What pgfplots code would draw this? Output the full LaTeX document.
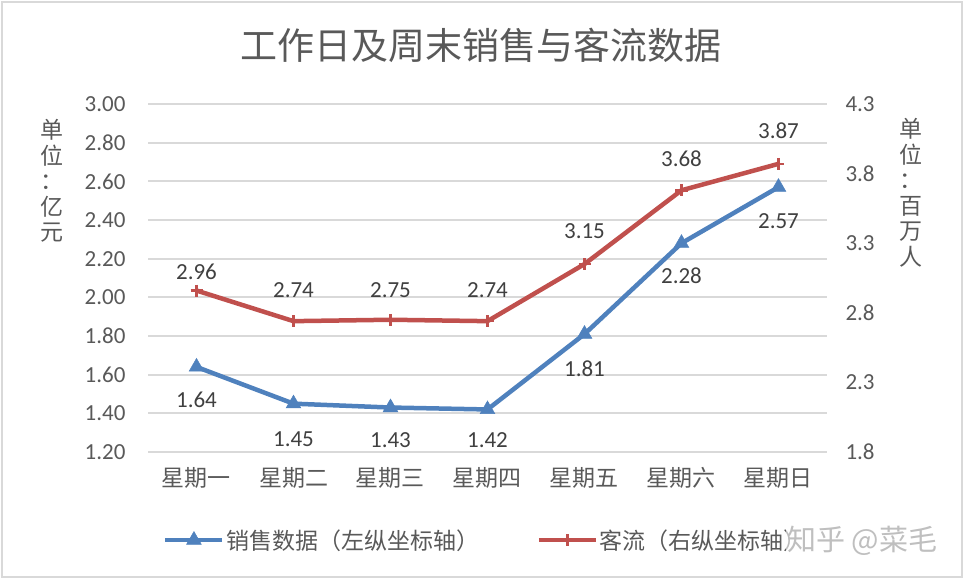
\documentclass[border=0pt]{standalone}
\usepackage{fontspec}
\usepackage{pgfplots}
\usepackage{pgfplotstable}
\pgfplotsset{compat=1.18}
\setmainfont{Carlito}
\newfontfamily\cjk{Noto Sans CJK SC}
\definecolor{cblue}{HTML}{4F81BD}
\definecolor{cred}{HTML}{C0504D}
\definecolor{cgrid}{HTML}{D9D9D9}
\definecolor{ctext}{HTML}{595959}
\definecolor{clabel}{HTML}{404040}

\pgfplotstableread{
x y off
0 1.64 -33
1 1.45 -36
2 1.43 -33
3 1.42 -31
4 1.81 -35
5 2.28 -33
6 2.57 -34
}\salesdata

\pgfplotstableread{
x y off
0 2.96 19
1 2.74 31
2 2.75 30
3 2.74 31
4 3.15 33
5 3.68 32
6 3.87 33
}\flowdata

\begin{document}
\begin{tikzpicture}
\path[use as bounding box] (0,0) rectangle (964pt,579pt);
\draw[cgrid, line width=2pt] (2pt,2pt) rectangle (962pt,577pt);

\begin{axis}[
  at={(148pt,127pt)}, anchor=south west,
  scale only axis, width=679pt, height=348pt,
  xmin=-0.5, xmax=6.5,
  ymin=1.2, ymax=3.0,
  xtick={0,...,6},
  xticklabels={星期一,星期二,星期三,星期四,星期五,星期六,星期日},
  xticklabel style={font=\cjk\fontsize{23}{27}\selectfont, text=ctext, yshift=-12pt},
  ytick={1.2,1.4,...,3.01},
  yticklabel style={/pgf/number format/fixed, /pgf/number format/precision=2,
    /pgf/number format/fixed zerofill, xshift=-19pt},
  /pgf/number format/assume math mode=true,
  tick label style={font=\fontsize{23}{27}\selectfont, text=ctext},
  axis y line*=left, axis x line*=bottom,
  axis line style={draw=none},
  major tick length=0pt,
  ymajorgrids, grid style={cgrid, line width=2pt},
  clip=false,
  legend style={at={(0.0221,-0.253)}, anchor=west, draw=none, fill=none,
    font=\cjk\fontsize{23}{27}\selectfont, text=ctext, legend columns=2,
    /tikz/every even column/.append style={column sep=56pt},
    inner sep=0pt, nodes={inner sep=1.5pt}},
  legend cell align=left,
  legend image code/.code={\draw[mark repeat=2,mark phase=2,#1] plot coordinates {(0pt,0pt) (28.5pt,0pt) (57pt,0pt)};},
]
\addplot[cblue, line width=4.5pt, mark=triangle*, mark size=8.5pt,
  mark options={solid, line width=0.5pt, fill=cblue},
  point meta=y,
  visualization depends on={\thisrow{off} \as \myoff},
  nodes near coords={\pgfmathprintnumber[fixed,precision=2,fixed zerofill]{\pgfplotspointmeta}},
  nodes near coords style={anchor=center, yshift=\myoff, font=\fontsize{23}{27}\selectfont, text=clabel, /pgf/number format/assume math mode=true}
] table[x=x,y=y] {\salesdata};
\addlegendentry{销售数据（左纵坐标轴）}
\addlegendimage{cred, line width=4.5pt, mark=+, mark size=6pt, mark options={solid, line width=2.5pt}}
\addlegendentry{客流（右纵坐标轴）}
\end{axis}

\begin{axis}[
  at={(148pt,127pt)}, anchor=south west,
  scale only axis, width=679pt, height=348pt,
  xmin=-0.5, xmax=6.5,
  ymin=1.8, ymax=4.3,
  ytick={1.8,2.3,2.8,3.3,3.8,4.3},
  yticklabel style={/pgf/number format/fixed, /pgf/number format/precision=1,
    /pgf/number format/fixed zerofill, xshift=15pt},
  /pgf/number format/assume math mode=true,
  tick label style={font=\fontsize{23}{27}\selectfont, text=ctext},
  axis y line*=right, hide x axis,
  axis line style={draw=none},
  major tick length=0pt,
  clip=false,
]
\addplot[cred, line width=4.5pt, mark=+, mark size=6pt,
  mark options={solid, line width=2.5pt},
  point meta=y,
  visualization depends on={\thisrow{off} \as \myoff},
  nodes near coords={\pgfmathprintnumber[fixed,precision=2,fixed zerofill]{\pgfplotspointmeta}},
  nodes near coords style={anchor=center, yshift=\myoff, font=\fontsize{23}{27}\selectfont, text=clabel, /pgf/number format/assume math mode=true}
] table[x=x,y=y] {\flowdata};
\end{axis}

\node[font=\cjk\fontsize{37}{41}\selectfont, text=ctext] at (481pt,534pt) {工作日及周末销售与客流数据};
\node[font=\cjk\fontsize{23}{25.5}\selectfont, text=ctext, align=center] at (52pt,398pt) {单\\位\\：\\亿\\元};
\node[font=\cjk\fontsize{23}{25.5}\selectfont, text=ctext, align=center] at (911pt,386pt) {单\\位\\：\\百\\万\\人};
\node[font=\cjk\fontsize{29}{33}\selectfont, text=black!25, fill=white, fill opacity=0.6, text opacity=1, inner sep=1pt, anchor=west] at (786pt,38pt) {知乎 @菜毛};
\end{tikzpicture}
\end{document}
